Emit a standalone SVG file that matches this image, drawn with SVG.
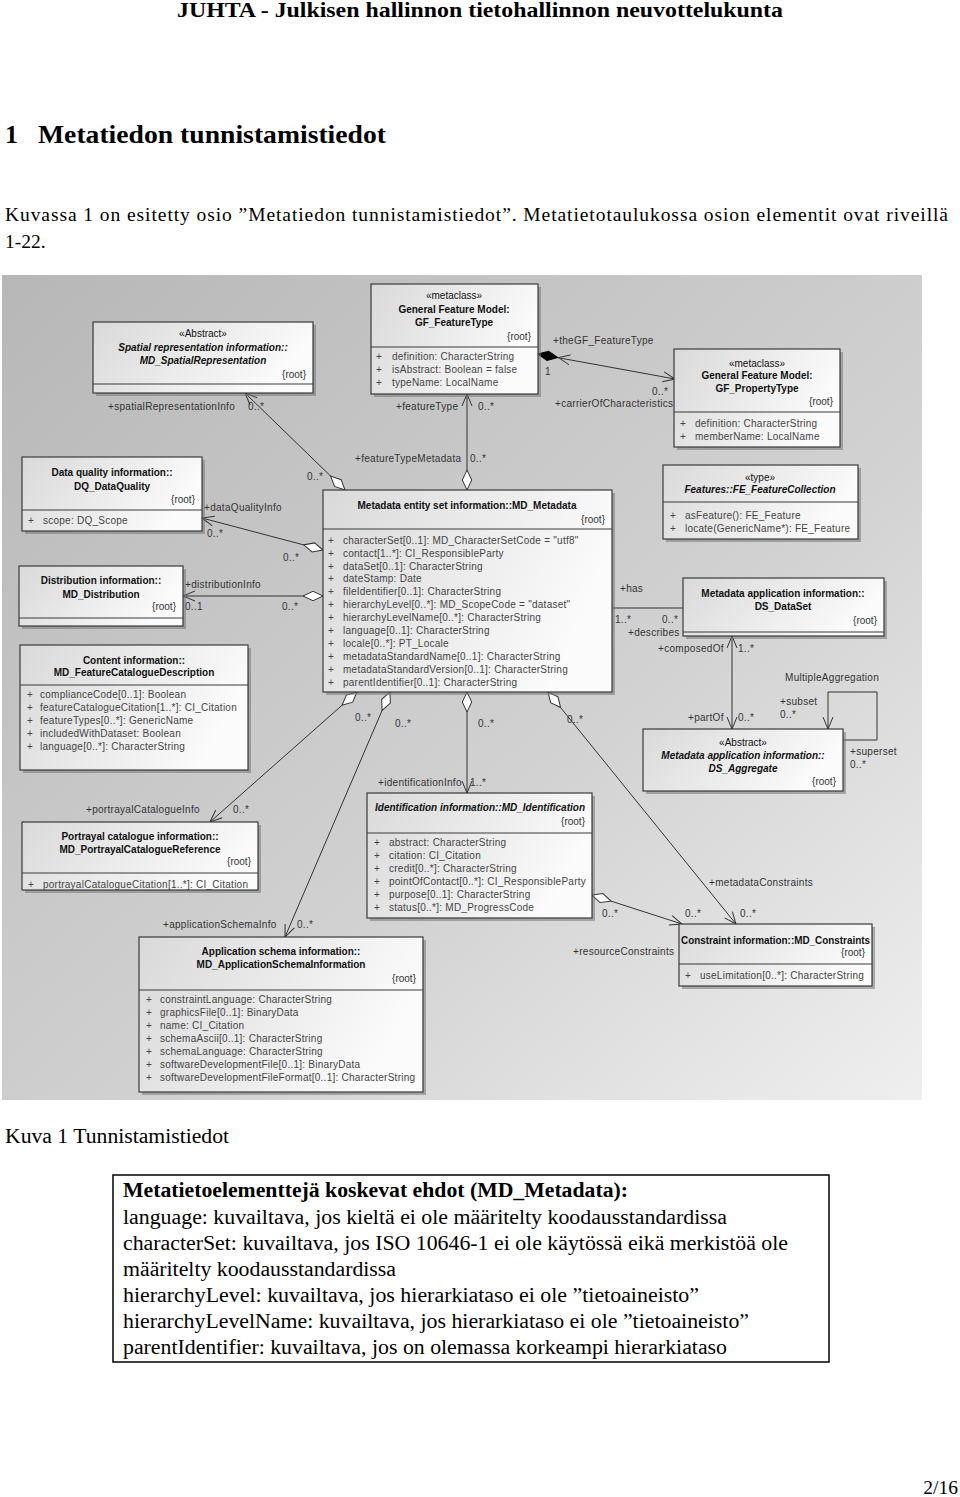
<svg xmlns="http://www.w3.org/2000/svg" width="960" height="1497" viewBox="0 0 960 1497">
<defs>
<linearGradient id="bg" x1="0" y1="0" x2="1" y2="1">
<stop offset="0" stop-color="#b7b7b7"/><stop offset="0.6" stop-color="#d2d2d2"/><stop offset="1" stop-color="#efefef"/>
</linearGradient>
<linearGradient id="boxg" x1="0" y1="0" x2="1" y2="0.3">
<stop offset="0" stop-color="#d9d9d9"/><stop offset="1" stop-color="#fbfbfb"/>
</linearGradient>
<marker id="arr" viewBox="0 0 14 12" refX="13" refY="6" markerWidth="14" markerHeight="12" markerUnits="userSpaceOnUse" orient="auto-start-reverse">
<path d="M1,1 L13,6 L1,11" fill="none" stroke="#333" stroke-width="1"/>
</marker>
<marker id="odia" viewBox="0 0 21 11" refX="0.5" refY="5.5" markerWidth="21" markerHeight="11" markerUnits="userSpaceOnUse" orient="auto">
<path d="M0.5,5.5 L10.5,0.8 L20.5,5.5 L10.5,10.2 Z" fill="#fff" stroke="#333" stroke-width="1"/>
</marker>
<marker id="fdia" viewBox="0 0 21 11" refX="0.5" refY="5.5" markerWidth="21" markerHeight="11" markerUnits="userSpaceOnUse" orient="auto">
<path d="M0.5,5.5 L10.5,0.8 L20.5,5.5 L10.5,10.2 Z" fill="#000" stroke="#000" stroke-width="1"/>
</marker>
</defs>
<style>
.doc{font-family:"Liberation Serif","Times New Roman",serif;fill:#000}
.box{fill:url(#boxg);stroke:#3a3a3a;stroke-width:1.2}
.sh{fill:#777;opacity:0.55}
.dv{stroke:#3a3a3a;stroke-width:1.2}
.t{font-family:"Liberation Sans",Arial,sans-serif;font-size:10px;fill:#111;text-anchor:middle}
.b{font-weight:bold}
.i{font-style:italic}
.rt{font-family:"Liberation Sans",Arial,sans-serif;font-size:10px;fill:#333;text-anchor:end}
.at{font-family:"Liberation Sans",Arial,sans-serif;font-size:10px;fill:#444;letter-spacing:0.25px}
.lb{font-family:"Liberation Sans",Arial,sans-serif;font-size:10px;fill:#333;letter-spacing:0.3px}
.ln{fill:none;stroke:#333;stroke-width:1}
</style>
<rect width="960" height="1497" fill="#fff"/>
<text class="doc" x="480" y="17" font-size="21.5" font-weight="bold" text-anchor="middle" fill="#222" textLength="606" lengthAdjust="spacingAndGlyphs">JUHTA - Julkisen hallinnon tietohallinnon neuvottelukunta</text>
<text class="doc" x="5" y="143" font-size="26" font-weight="bold">1</text>
<text class="doc" x="38" y="143" font-size="26" font-weight="bold" textLength="348" lengthAdjust="spacingAndGlyphs">Metatiedon tunnistamistiedot</text>
<text class="doc" x="5" y="221" font-size="19.5" textLength="943" lengthAdjust="spacing">Kuvassa 1 on esitetty osio ”Metatiedon tunnistamistiedot”. Metatietotaulukossa osion elementit ovat riveillä</text>
<text class="doc" x="5" y="248" font-size="19.5">1-22.</text>

<rect x="2" y="275" width="920" height="825" fill="url(#bg)"/>

<g id="connectors">
<path class="ln" d="M345,490 L245,393" marker-start="url(#odia)" marker-end="url(#arr)"/>
<path class="ln" d="M467,490 L467,394" marker-start="url(#odia)" marker-end="url(#arr)"/>
<path class="ln" d="M538,354 L675,379" marker-start="url(#fdia)" marker-end="url(#arr)"/>
<path class="ln" d="M570.7,354.9 L558.5,357.6 L568.9,364.7"/>
<path class="ln" d="M323,550 L202,518" marker-start="url(#odia)" marker-end="url(#arr)"/>
<path class="ln" d="M323,596 L183,596" marker-start="url(#odia)" marker-end="url(#arr)"/>
<path class="ln" d="M612,608 L683,608"/>
<path class="ln" d="M732,636 L732,729" marker-start="url(#arr)" marker-end="url(#arr)"/>
<path class="ln" d="M843,740 H877 V692 H828 V729" marker-end="url(#arr)"/>
<path class="ln" d="M357,692 L210,822" marker-start="url(#odia)" marker-end="url(#arr)"/>
<path class="ln" d="M390,692 L285,937" marker-start="url(#odia)" marker-end="url(#arr)"/>
<path class="ln" d="M467,692 L467,793" marker-start="url(#odia)" marker-end="url(#arr)"/>
<path class="ln" d="M548,692 L736,924" marker-start="url(#odia)" marker-end="url(#arr)"/>
<path class="ln" d="M592,895 L682,924" marker-start="url(#odia)" marker-end="url(#arr)"/>

<text class="lb" x="108" y="410">+spatialRepresentationInfo</text>
<text class="lb" x="248" y="410">0..*</text>
<text class="lb" x="396" y="410">+featureType</text>
<text class="lb" x="478" y="410">0..*</text>
<text class="lb" x="553" y="344">+theGF_FeatureType</text>
<text class="lb" x="545" y="375">1</text>
<text class="lb" x="652" y="395">0..*</text>
<text class="lb" x="555" y="407">+carrierOfCharacteristics</text>
<text class="lb" x="355" y="462">+featureTypeMetadata</text>
<text class="lb" x="470" y="462">0..*</text>
<text class="lb" x="307" y="480">0..*</text>
<text class="lb" x="204" y="511">+dataQualityInfo</text>
<text class="lb" x="207" y="537">0..*</text>
<text class="lb" x="283" y="561">0..*</text>
<text class="lb" x="185" y="588">+distributionInfo</text>
<text class="lb" x="185" y="610">0..1</text>
<text class="lb" x="282" y="610">0..*</text>
<text class="lb" x="620" y="592">+has</text>
<text class="lb" x="615" y="623">1..*</text>
<text class="lb" x="662" y="623">0..*</text>
<text class="lb" x="628" y="636">+describes</text>
<text class="lb" x="658" y="652">+composedOf</text>
<text class="lb" x="738" y="652">1..*</text>
<text class="lb" x="785" y="681">MultipleAggregation</text>
<text class="lb" x="688" y="721">+partOf</text>
<text class="lb" x="738" y="721">0..*</text>
<text class="lb" x="780" y="705">+subset</text>
<text class="lb" x="780" y="718">0..*</text>
<text class="lb" x="850" y="755">+superset</text>
<text class="lb" x="850" y="768">0..*</text>
<text class="lb" x="355" y="721">0..*</text>
<text class="lb" x="395" y="727">0..*</text>
<text class="lb" x="478" y="727">0..*</text>
<text class="lb" x="567" y="723">0..*</text>
<text class="lb" x="378" y="786">+identificationInfo</text>
<text class="lb" x="470" y="786">1..*</text>
<text class="lb" x="86" y="813">+portrayalCatalogueInfo</text>
<text class="lb" x="233" y="813">0..*</text>
<text class="lb" x="163" y="928">+applicationSchemaInfo</text>
<text class="lb" x="297" y="928">0..*</text>
<text class="lb" x="709" y="886">+metadataConstraints</text>
<text class="lb" x="602" y="917">0..*</text>
<text class="lb" x="685" y="917">0..*</text>
<text class="lb" x="740" y="917">0..*</text>
<text class="lb" x="573" y="955">+resourceConstraints</text>
</g>

<g id="MD_SpatialRepresentation">
<rect class="sh" x="96" y="325" width="220" height="71"/>
<rect class="box" x="93" y="322" width="220" height="71"/>
<line class="dv" x1="93" y1="384" x2="313" y2="384"/>
<text class="t" x="203" y="337">«Abstract»</text>
<text class="t b i" x="203" y="351">Spatial representation information::</text>
<text class="t b i" x="203" y="364">MD_SpatialRepresentation</text>
<text class="rt" x="306" y="378">{root}</text>
</g>

<g id="GF_FeatureType">
<rect class="sh" x="374" y="287" width="167" height="110"/>
<rect class="box" x="371" y="284" width="167" height="110"/>
<line class="dv" x1="371" y1="347" x2="538" y2="347"/>
<text class="t" x="454" y="299">«metaclass»</text>
<text class="t b" x="454" y="313">General Feature Model:</text>
<text class="t b" x="454" y="326">GF_FeatureType</text>
<text class="rt" x="531" y="340">{root}</text>
<text class="at" x="376" y="360">+</text><text class="at" x="392" y="360">definition: CharacterString</text>
<text class="at" x="376" y="373">+</text><text class="at" x="392" y="373">isAbstract: Boolean = false</text>
<text class="at" x="376" y="386">+</text><text class="at" x="392" y="386">typeName: LocalName</text>
</g>

<g id="GF_PropertyType">
<rect class="sh" x="677" y="352" width="166" height="98"/>
<rect class="box" x="674" y="349" width="166" height="98"/>
<line class="dv" x1="674" y1="412" x2="840" y2="412"/>
<text class="t" x="757" y="367">«metaclass»</text>
<text class="t b" x="757" y="379">General Feature Model:</text>
<text class="t b" x="757" y="392">GF_PropertyType</text>
<text class="rt" x="833" y="405">{root}</text>
<text class="at" x="680" y="427">+</text><text class="at" x="695" y="427">definition: CharacterString</text>
<text class="at" x="680" y="440">+</text><text class="at" x="695" y="440">memberName: LocalName</text>
</g>

<g id="DQ_DataQuality">
<rect class="sh" x="25" y="460" width="180" height="74"/>
<rect class="box" x="22" y="457" width="180" height="74"/>
<line class="dv" x1="22" y1="510" x2="202" y2="510"/>
<text class="t b" x="112" y="476">Data quality information::</text>
<text class="t b" x="112" y="490">DQ_DataQuality</text>
<text class="rt" x="195" y="503">{root}</text>
<text class="at" x="28" y="524">+</text><text class="at" x="43" y="524">scope: DQ_Scope</text>
</g>

<g id="MD_Distribution">
<rect class="sh" x="22" y="569" width="164" height="60"/>
<rect class="box" x="19" y="566" width="164" height="60"/>
<line class="dv" x1="19" y1="618" x2="183" y2="618"/>
<text class="t b" x="101" y="584">Distribution information::</text>
<text class="t b" x="101" y="598">MD_Distribution</text>
<text class="rt" x="176" y="610">{root}</text>
</g>

<g id="MD_Metadata">
<rect class="sh" x="326" y="493" width="289" height="202"/>
<rect class="box" x="323" y="490" width="289" height="202"/>
<line class="dv" x1="323" y1="529" x2="612" y2="529"/>
<text class="t b" x="467" y="509">Metadata entity set information::MD_Metadata</text>
<text class="rt" x="605" y="523">{root}</text>
<g class="at">
<text x="328" y="544">+</text><text x="343" y="544">characterSet[0..1]: MD_CharacterSetCode = "utf8"</text>
<text x="328" y="557">+</text><text x="343" y="557">contact[1..*]: CI_ResponsibleParty</text>
<text x="328" y="570">+</text><text x="343" y="570">dataSet[0..1]: CharacterString</text>
<text x="328" y="582">+</text><text x="343" y="582">dateStamp: Date</text>
<text x="328" y="595">+</text><text x="343" y="595">fileIdentifier[0..1]: CharacterString</text>
<text x="328" y="608">+</text><text x="343" y="608">hierarchyLevel[0..*]: MD_ScopeCode = "dataset"</text>
<text x="328" y="621">+</text><text x="343" y="621">hierarchyLevelName[0..*]: CharacterString</text>
<text x="328" y="634">+</text><text x="343" y="634">language[0..1]: CharacterString</text>
<text x="328" y="647">+</text><text x="343" y="647">locale[0..*]: PT_Locale</text>
<text x="328" y="660">+</text><text x="343" y="660">metadataStandardName[0..1]: CharacterString</text>
<text x="328" y="673">+</text><text x="343" y="673">metadataStandardVersion[0..1]: CharacterString</text>
<text x="328" y="686">+</text><text x="343" y="686">parentIdentifier[0..1]: CharacterString</text>
</g>
</g>

<g id="FE_FeatureCollection">
<rect class="sh" x="666" y="468" width="195" height="74"/>
<rect class="box" x="663" y="465" width="195" height="74"/>
<line class="dv" x1="663" y1="502" x2="858" y2="502"/>
<text class="t" x="760" y="481">«type»</text>
<text class="t b i" x="760" y="493">Features::FE_FeatureCollection</text>
<text class="at" x="670" y="519">+</text><text class="at" x="685" y="519">asFeature(): FE_Feature</text>
<text class="at" x="670" y="532">+</text><text class="at" x="685" y="532">locate(GenericName*): FE_Feature</text>
</g>

<g id="DS_DataSet">
<rect class="sh" x="686" y="581" width="201" height="58"/>
<rect class="box" x="683" y="578" width="201" height="58"/>
<line class="dv" x1="683" y1="632" x2="884" y2="632"/>
<text class="t b" x="783" y="597">Metadata application information::</text>
<text class="t b" x="783" y="610">DS_DataSet</text>
<text class="rt" x="877" y="624">{root}</text>
</g>

<g id="DS_Aggregate">
<rect class="sh" x="646" y="732" width="200" height="62"/>
<rect class="box" x="643" y="729" width="200" height="62"/>
<text class="t" x="743" y="746">«Abstract»</text>
<text class="t b i" x="743" y="759">Metadata application information::</text>
<text class="t b i" x="743" y="772">DS_Aggregate</text>
<text class="rt" x="836" y="785">{root}</text>
</g>

<g id="MD_FeatureCatalogueDescription">
<rect class="sh" x="23" y="648" width="228" height="125"/>
<rect class="box" x="20" y="645" width="228" height="125"/>
<line class="dv" x1="20" y1="685" x2="248" y2="685"/>
<text class="t b" x="134" y="664">Content information::</text>
<text class="t b" x="134" y="676">MD_FeatureCatalogueDescription</text>
<g class="at">
<text x="27" y="698">+</text><text x="40" y="698">complianceCode[0..1]: Boolean</text>
<text x="27" y="711">+</text><text x="40" y="711">featureCatalogueCitation[1..*]: CI_Citation</text>
<text x="27" y="724">+</text><text x="40" y="724">featureTypes[0..*]: GenericName</text>
<text x="27" y="737">+</text><text x="40" y="737">includedWithDataset: Boolean</text>
<text x="27" y="750">+</text><text x="40" y="750">language[0..*]: CharacterString</text>
</g>
</g>

<g id="MD_PortrayalCatalogueReference">
<rect class="sh" x="25" y="825" width="236" height="68"/>
<rect class="box" x="22" y="822" width="236" height="68"/>
<line class="dv" x1="22" y1="873" x2="258" y2="873"/>
<text class="t b" x="140" y="840">Portrayal catalogue information::</text>
<text class="t b" x="140" y="853">MD_PortrayalCatalogueReference</text>
<text class="rt" x="251" y="865">{root}</text>
<text class="at" x="28" y="888">+</text><text class="at" x="43" y="888">portrayalCatalogueCitation[1..*]: CI_Citation</text>
</g>

<g id="MD_Identification">
<rect class="sh" x="370" y="796" width="225" height="125"/>
<rect class="box" x="367" y="793" width="225" height="125"/>
<line class="dv" x1="367" y1="833" x2="592" y2="833"/>
<text class="t b i" x="480" y="811">Identification information::MD_Identification</text>
<text class="rt" x="585" y="825">{root}</text>
<g class="at">
<text x="374" y="846">+</text><text x="389" y="846">abstract: CharacterString</text>
<text x="374" y="859">+</text><text x="389" y="859">citation: CI_Citation</text>
<text x="374" y="872">+</text><text x="389" y="872">credit[0..*]: CharacterString</text>
<text x="374" y="885">+</text><text x="389" y="885">pointOfContact[0..*]: CI_ResponsibleParty</text>
<text x="374" y="898">+</text><text x="389" y="898">purpose[0..1]: CharacterString</text>
<text x="374" y="911">+</text><text x="389" y="911">status[0..*]: MD_ProgressCode</text>
</g>
</g>

<g id="MD_Constraints">
<rect class="sh" x="682" y="927" width="193" height="62"/>
<rect class="box" x="679" y="924" width="193" height="62"/>
<line class="dv" x1="679" y1="964" x2="872" y2="964"/>
<text class="t b" x="775.5" y="944" textLength="189" lengthAdjust="spacingAndGlyphs">Constraint information::MD_Constraints</text>
<text class="rt" x="865" y="956">{root}</text>
<text class="at" x="685" y="979">+</text><text class="at" x="700" y="979">useLimitation[0..*]: CharacterString</text>
</g>

<g id="MD_ApplicationSchemaInformation">
<rect class="sh" x="142" y="940" width="284" height="155"/>
<rect class="box" x="139" y="937" width="284" height="155"/>
<line class="dv" x1="139" y1="990" x2="423" y2="990"/>
<text class="t b" x="281" y="955">Application schema information::</text>
<text class="t b" x="281" y="968">MD_ApplicationSchemaInformation</text>
<text class="rt" x="416" y="982">{root}</text>
<g class="at">
<text x="146" y="1003">+</text><text x="160" y="1003">constraintLanguage: CharacterString</text>
<text x="146" y="1016">+</text><text x="160" y="1016">graphicsFile[0..1]: BinaryData</text>
<text x="146" y="1029">+</text><text x="160" y="1029">name: CI_Citation</text>
<text x="146" y="1042">+</text><text x="160" y="1042">schemaAscii[0..1]: CharacterString</text>
<text x="146" y="1055">+</text><text x="160" y="1055">schemaLanguage: CharacterString</text>
<text x="146" y="1068">+</text><text x="160" y="1068">softwareDevelopmentFile[0..1]: BinaryData</text>
<text x="146" y="1081">+</text><text x="160" y="1081">softwareDevelopmentFileFormat[0..1]: CharacterString</text>
</g>
</g>

<text class="doc" x="5" y="1143" font-size="20.5" textLength="224" lengthAdjust="spacingAndGlyphs">Kuva 1 Tunnistamistiedot</text>

<g id="table">
<rect x="113" y="1175" width="716" height="187" fill="none" stroke="#000" stroke-width="1.5"/>
<text class="doc" x="123" y="1197" font-size="20" font-weight="bold" textLength="505" lengthAdjust="spacingAndGlyphs">Metatietoelementtejä koskevat ehdot (MD_Metadata):</text>
<text class="doc" x="123" y="1224" font-size="20" textLength="604" lengthAdjust="spacingAndGlyphs">language: kuvailtava, jos kieltä ei ole määritelty koodausstandardissa</text>
<text class="doc" x="123" y="1250" font-size="20" textLength="665" lengthAdjust="spacingAndGlyphs">characterSet: kuvailtava, jos ISO 10646-1 ei ole käytössä eikä merkistöä ole</text>
<text class="doc" x="123" y="1276" font-size="20" textLength="273" lengthAdjust="spacingAndGlyphs">määritelty koodausstandardissa</text>
<text class="doc" x="123" y="1302" font-size="20" textLength="576" lengthAdjust="spacingAndGlyphs">hierarchyLevel: kuvailtava, jos hierarkiataso ei ole ”tietoaineisto”</text>
<text class="doc" x="123" y="1328" font-size="20" textLength="626" lengthAdjust="spacingAndGlyphs">hierarchyLevelName: kuvailtava, jos hierarkiataso ei ole ”tietoaineisto”</text>
<text class="doc" x="123" y="1354" font-size="20" textLength="604" lengthAdjust="spacingAndGlyphs">parentIdentifier: kuvailtava, jos on olemassa korkeampi hierarkiataso</text>
</g>

<text class="doc" x="958" y="1494" font-size="19.5" text-anchor="end">2/16</text>
</svg>
